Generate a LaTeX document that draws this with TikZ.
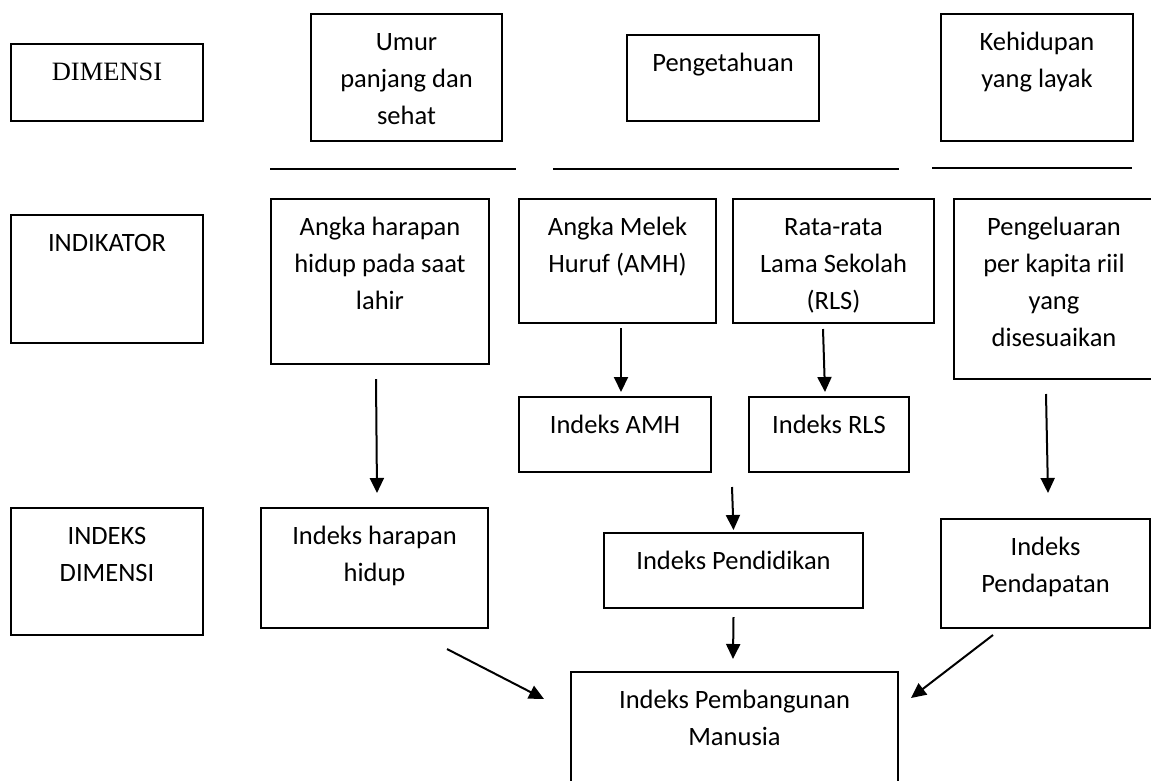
\documentclass[tikz,border=0pt]{standalone}
\usepackage{fontspec}
\setmainfont{Carlito}
\newfontfamily\timesfont{Liberation Serif}
\usetikzlibrary{arrows.meta}
\newcommand{\cell}[3]{\parbox[t][#2pt][t]{#1pt}{\centering\rule{0pt}{36.5pt}#3}}

\begin{document}
\begin{tikzpicture}[
        x=1pt,
        y=-1pt,
        >={Triangle[length=15pt, width=14pt]},
        every node/.style={font=\fontsize{26.5}{37}\selectfont},
        box/.style={draw, line width=2pt, inner sep=0pt, anchor=north west},
        arr/.style={->, line width=2pt},
        rule/.style={line width=2pt}
    ]
    \useasboundingbox (0,0) rectangle (1151,780);

    % row labels
    \node[box] (dim) at (10,43) {\cell{192}{77}{\timesfont DIMENSI}};
    \node[box] (ind) at (10,214) {\cell{192}{128}{INDIKATOR}};
    \node[box] (idxdim) at (10,507) {\cell{192}{127}{INDEKS\\DIMENSI}};

    % dimensions
    \node[box] (umur) at (310,13) {\cell{191}{127}{Umur\\panjang dan\\sehat}};
    \node[box] (tahu) at (626,34) {\cell{192}{86}{Pengetahuan}};
    \node[box] (layak) at (940,13) {\cell{192}{127}{Kehidupan\\yang layak}};
    \draw[rule] (270,169) -- (516,169);
    \draw[rule] (553,169) -- (899,169);
    \draw[rule] (932,168) -- (1132,168);

    % indicators
    \node[box] (aha) at (270,198) {\cell{218}{165}{Angka harapan\\hidup pada saat\\lahir}};
    \node[box] (amh) at (518,198) {\cell{197}{124}{Angka Melek\\Huruf (AMH)}};
    \node[box] (rls) at (732,198) {\cell{201}{124}{Rata-rata\\Lama Sekolah\\(RLS)}};
    \node[box] (kap) at (953,198) {\cell{200}{180}{Pengeluaran\\per kapita riil\\yang\\disesuaikan}};
    \node[box] (iamh) at (518,396) {\cell{192}{75}{Indeks AMH}};
    \node[box] (irls) at (748,396) {\cell{160}{75}{Indeks RLS}};

    % dimension indices
    \node[box] (ihh) at (260,507) {\cell{227}{120}{Indeks harapan\\hidup}};
    \node[box] (ipend) at (603,532) {\cell{259}{75}{Indeks Pendidikan}};
    \node[box] (ipdp) at (940,518) {\cell{209}{109}{Indeks\\Pendapatan}};
    \node[box] (ipm) at (570,671) {\cell{327}{112}{Indeks Pembangunan\\Manusia}};
    \coordinate (pdk) at (732,487);

    \draw[arr] ([xshift=-4pt, yshift=-14pt]aha.south) -- ([xshift=2.5pt, yshift=14pt]ihh.north);
    \draw[arr] ([xshift=3.5pt, yshift=-4pt]amh.south) -- ([xshift=6pt, yshift=4pt]iamh.north);
    \draw[arr] ([xshift=-10.5pt, yshift=-5pt]rls.south) -- ([xshift=-4pt, yshift=4pt]irls.north);
    \draw[arr] ([xshift=-8pt, yshift=-14pt]kap.south) -- ([xshift=2.5pt, yshift=25pt]ipdp.north);
    \draw[arr] (pdk) -- ([yshift=2pt]ipend.north);
    \draw[arr] ([yshift=-8pt]ipend.south) -- ([xshift=-1.5pt, yshift=12pt]ipm.north);
    \draw[arr] ([shift={(-42,20)}]ihh.south east) -- ([shift={(-26,28)}]ipm.north west);
    \draw[arr] ([shift={(53,6)}]ipdp.south west) -- ([shift={(12,27)}]ipm.north east);
\end{tikzpicture}
\end{document}
